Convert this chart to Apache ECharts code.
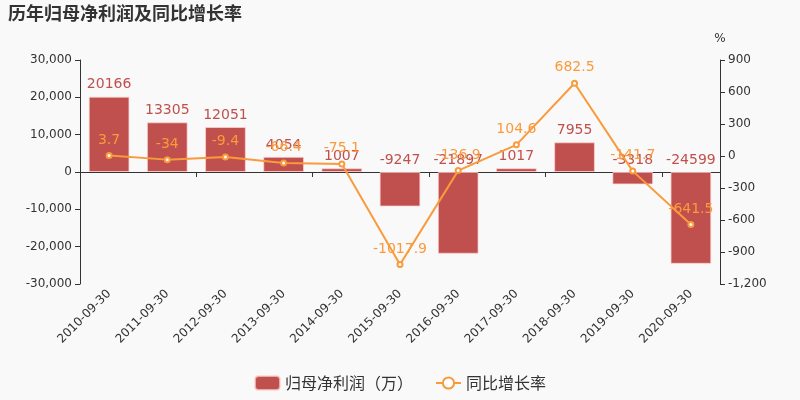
<!DOCTYPE html>
<html>
<head>
    <meta charset="UTF-8">
    <script src="https://cdn.jsdelivr.net/npm/echarts@6/dist/echarts.min.js"></script>
    <title>历年归母净利润及同比增长率</title>
    <style>
        html, body { margin: 0; padding: 0; background: #f9f9f9; }
    </style>
</head>
<body>
    <div id="main" style="width:800px;height:400px;"></div>
    <script type="text/javascript">
        // 数据
        var categories = ['2010-09-30', '2011-09-30', '2012-09-30', '2013-09-30', '2014-09-30', '2015-09-30',
            '2016-09-30', '2017-09-30', '2018-09-30', '2019-09-30', '2020-09-30'];
        var netProfit = [20166, 13305, 12051, 4054, 1007, -9247, -21897, 1017, 7955, -3318, -24599];
        var growthRate = [3.7, -34, -9.4, -66.4, -75.1, -1017.9, -136.9, 104.6, 682.5, -141.7, -641.5];

        var barColor = '#c0504d';
        var lineColor = '#f99b3c';
        var fontFamily = '"DejaVu Sans", "Noto Sans CJK SC", sans-serif';

        var myChart = echarts.init(document.getElementById('main'));

        var option = {
            backgroundColor: '#f9f9f9',
            textStyle: { fontFamily: fontFamily },
            title: {
                text: '历年归母净利润及同比增长率',
                left: 3,
                top: 1,
                textStyle: { fontSize: 18, fontWeight: 'bold', color: '#333', fontFamily: fontFamily }
            },
            legend: {
                bottom: 4,
                left: 'center',
                itemWidth: 25,
                itemHeight: 14,
                itemGap: 22,
                textStyle: { fontSize: 16, color: '#333', fontFamily: '"Noto Sans CJK SC", sans-serif' },
                data: ['归母净利润（万）', '同比增长率']
            },
            grid: { left: 80, right: 80, top: 60, bottom: 116 },
            xAxis: [{
                type: 'category',
                data: categories,
                axisLine: { onZero: true, lineStyle: { color: '#333' } },
                axisTick: { show: true, lineStyle: { color: '#333' } },
                axisLabel: { show: false }
            }, {
                type: 'category',
                data: categories,
                position: 'bottom',
                axisLine: { show: false },
                axisTick: { show: false },
                axisLabel: { rotate: 45, fontSize: 12, color: '#333', margin: 8, fontFamily: fontFamily }
            }],
            yAxis: [{
                type: 'value',
                min: -30000,
                max: 30000,
                interval: 10000,
                splitLine: { show: false },
                axisLine: { show: true, lineStyle: { color: '#333' } },
                axisTick: { show: true },
                axisLabel: { fontSize: 12, color: '#333', fontFamily: fontFamily }
            }, {
                type: 'value',
                name: '%',
                nameTextStyle: { fontSize: 12, color: '#333', fontFamily: fontFamily },
                nameGap: 15,
                min: -1200,
                max: 900,
                interval: 300,
                splitLine: { show: false },
                axisLine: { show: true, lineStyle: { color: '#333' } },
                axisTick: { show: true },
                axisLabel: { fontSize: 12, color: '#333', fontFamily: fontFamily }
            }],
            series: [{
                name: '归母净利润（万）',
                type: 'bar',
                xAxisIndex: 0,
                yAxisIndex: 0,
                barWidth: '70%',
                data: netProfit,
                itemStyle: { color: barColor, borderColor: 'rgba(255,210,210,0.7)', borderWidth: 1 },
                label: { show: true, position: 'top', fontSize: 14, color: barColor, fontFamily: fontFamily }
            }, {
                name: '同比增长率',
                type: 'line',
                xAxisIndex: 0,
                yAxisIndex: 1,
                data: growthRate,
                symbol: 'emptyCircle',
                symbolSize: 5,
                itemStyle: { color: lineColor },
                lineStyle: { color: lineColor, width: 2 },
                label: { show: true, position: 'top', fontSize: 14, color: lineColor, fontFamily: fontFamily }
            }]
        };

        myChart.setOption(option);
    </script>
</body>
</html>
